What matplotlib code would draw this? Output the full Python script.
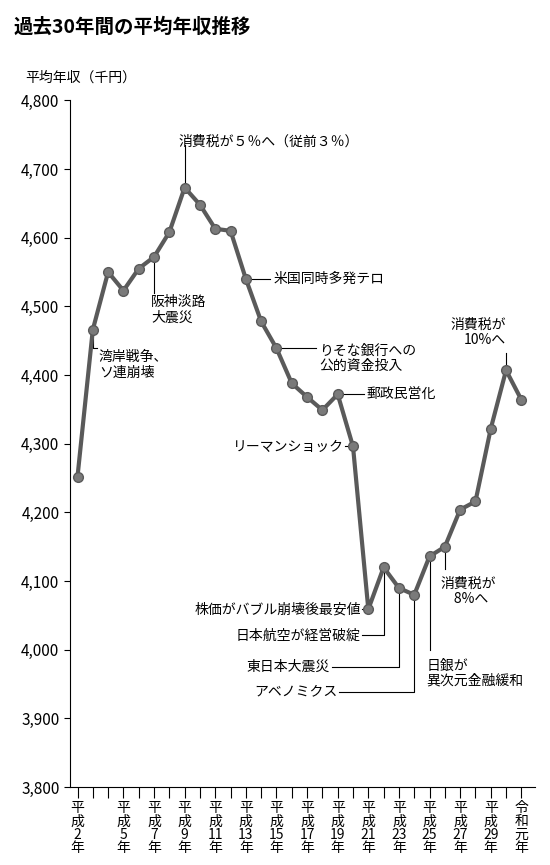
import matplotlib
matplotlib.use("Agg")
import matplotlib.pyplot as plt

plt.rcParams['font.family'] = ['Noto Sans CJK JP', 'DejaVu Sans']

years = ["平成2年","平成3年","平成4年","平成5年","平成6年","平成7年","平成8年","平成9年","平成10年","平成11年",
         "平成12年","平成13年","平成14年","平成15年","平成16年","平成17年","平成18年","平成19年","平成20年","平成21年",
         "平成22年","平成23年","平成24年","平成25年","平成26年","平成27年","平成28年","平成29年","平成30年","令和元年"]
income = [4252,4466,4550,4523,4555,4572,4608,4673,4648,4613,
          4610,4540,4478,4439,4388,4368,4349,4372,4296,4059,
          4120,4090,4080,4136,4150,4204,4216,4322,4407,4364]
tick_labels = {0:"平\n成\n2\n年",3:"平\n成\n5\n年",5:"平\n成\n7\n年",7:"平\n成\n9\n年",9:"平\n成\n11\n年",
               11:"平\n成\n13\n年",13:"平\n成\n15\n年",15:"平\n成\n17\n年",17:"平\n成\n19\n年",19:"平\n成\n21\n年",
               21:"平\n成\n23\n年",23:"平\n成\n25\n年",25:"平\n成\n27\n年",27:"平\n成\n29\n年",29:"令\n和\n元\n年"}

fig = plt.figure(figsize=(5.5, 8.65), dpi=100)
ax = fig.add_axes([0.127, 0.090, 0.846, 0.794])
x = list(range(len(income)))
ax.plot(x, income, color='#5a5a5a', lw=3, marker='o', ms=7, mfc='#7a7a7a', mec='#5a5a5a', zorder=3)
ax.set_xlim(-0.5, 29.9)
ax.set_ylim(3800, 4800)
ax.set_yticks(range(3800, 4801, 100))
ax.set_yticklabels([f"{v:,}" for v in range(3800, 4801, 100)], fontsize=11)
ax.set_xticks(x)
ax.set_xticklabels([tick_labels.get(i, "") for i in x], fontsize=10, linespacing=0.95, va='top')
ax.tick_params(axis='x', length=8, width=0.8, pad=2)
ax.tick_params(axis='y', length=4, width=0.8)
for s in ['top', 'right']:
    ax.spines[s].set_visible(False)

fig.text(0.025, 0.962, "過去30年間の平均年収推移", fontsize=14, fontweight='bold')
fig.text(0.045, 0.906, "平均年収（千円）", fontsize=10)

lc = dict(color='black', lw=0.8, zorder=2)
fs = 10
def seg(xs, ys):
    ax.plot(xs, ys, **lc)

I = income
# 消費税5%
seg([7, 7], [I[7], 4735]); ax.text(6.6, 4740, "消費税が５％へ（従前３％）", fontsize=fs, va='center')
# 阪神淡路
seg([5, 5], [I[5], 4520]); ax.text(4.8, 4495, "阪神淡路\n大震災", fontsize=fs, va='center', linespacing=1.1)
# 米国同時多発テロ
seg([11, 12.6], [I[11], I[11]]); ax.text(12.8, I[11], "米国同時多発テロ", fontsize=fs, va='center')
# りそな
seg([13, 15.6], [I[13], I[13]]); ax.text(15.8, 4425, "りそな銀行への\n公的資金投入", fontsize=fs, va='center', linespacing=1.1)
# 郵政民営化
seg([17, 18.7], [I[17], I[17]]); ax.text(18.9, I[17], "郵政民営化", fontsize=fs, va='center')
# リーマン
seg([17.5, 18], [I[18], I[18]]); ax.text(17.4, I[18], "リーマンショック", fontsize=fs, va='center', ha='right')
# 湾岸戦争
seg([1, 1, 1.3], [I[1], 4440, 4440]); ax.text(1.4, 4415, "湾岸戦争、\nソ連崩壊", fontsize=fs, va='center', linespacing=1.1)
# 株価
seg([18.6, 19], [I[19], I[19]]); ax.text(18.5, I[19], "株価がバブル崩壊後最安値", fontsize=fs, va='center', ha='right')
# JAL
seg([20, 20, 18.6], [I[20], 4021, 4021]); ax.text(18.5, 4021, "日本航空が経営破綻", fontsize=fs, va='center', ha='right')
# 東日本
seg([21, 21, 16.6], [I[21], 3975, 3975]); ax.text(16.5, 3975, "東日本大震災", fontsize=fs, va='center', ha='right')
# アベノミクス
seg([22, 22, 17.1], [I[22], 3939, 3939]); ax.text(17.0, 3939, "アベノミクス", fontsize=fs, va='center', ha='right')
# 日銀
seg([23, 23], [I[23], 4000]); ax.text(22.8, 3966, "日銀が\n異次元金融緩和", fontsize=fs, va='center', linespacing=1.1)
# 消費税8%
seg([24, 24], [I[24], 4117]); ax.text(23.7, 4085, "消費税が\n　8%へ", fontsize=fs, va='center', linespacing=1.1)
# 消費税10%
seg([28, 28], [I[28], 4432]); ax.text(28.0, 4462, "消費税が\n10%へ", fontsize=fs, va='center', ha='right', multialignment='right', linespacing=1.1)

fig.savefig("out.png", dpi=100)
